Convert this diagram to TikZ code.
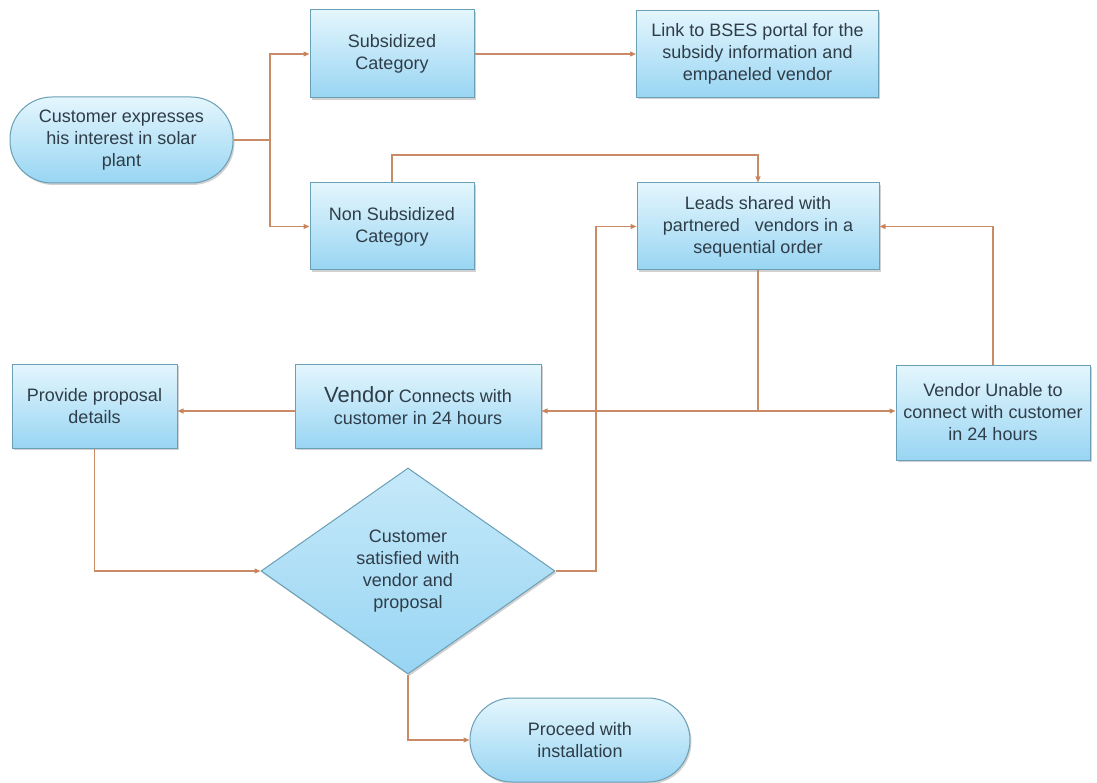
\documentclass[tikz,border=0pt]{standalone}
\usepackage{fontspec}
\setmainfont{Liberation Sans}
\usetikzlibrary{arrows.meta,shadows,shapes.geometric}
\definecolor{boxtop}{HTML}{E4F6FD}
\definecolor{boxbot}{HTML}{98D5F3}
\definecolor{boxline}{HTML}{6A9FB5}
\definecolor{conn}{HTML}{C98A66}
\definecolor{tipc}{HTML}{D06A35}
\definecolor{txt}{HTML}{2F3D48}
\begin{document}
\begin{tikzpicture}[x=1pt,y=-1pt,
  shapebase/.style={draw=boxline, line width=1pt, top color=boxtop, bottom color=boxbot,
    inner sep=0pt, align=center, text=txt, font=\fontsize{18}{22}\selectfont,
    drop shadow={opacity=0.3, shadow xshift=1.5pt, shadow yshift=-2pt, fill=black!60}},
  procbox/.style={shapebase, rectangle},
  termbox/.style={shapebase, rectangle, rounded corners=42pt},
  decbox/.style={shapebase, diamond, top color=boxtop!60!boxbot, bottom color=boxbot},
  lbl/.style={align=center, text=txt, font=\fontsize{18}{22}\selectfont, inner sep=0pt},
  link/.style={draw=conn, line width=1.1pt},
  arr/.style={link, -{Triangle[length=6pt,width=5pt,fill=tipc]}}
]
\useasboundingbox (0,0) rectangle (1097,783);

\node[termbox, minimum width=223pt, minimum height=86pt] (cust) at (121.5,140)
  {Customer expresses\\his interest in solar\\plant};
\node[procbox, minimum width=164pt, minimum height=88pt] (sub) at (392,54)
  {Subsidized\\Category};
\node[procbox, minimum width=242pt, minimum height=87pt] (portal) at (757.5,54)
  {Link to BSES portal for the\\subsidy information and\\empaneled vendor};
\node[procbox, minimum width=164pt, minimum height=87pt] (nonsub) at (392,226.5)
  {Non Subsidized\\Category};
\node[procbox, minimum width=242pt, minimum height=87pt] (leads) at (758,226.5)
  {Leads shared with\\partnered\ \ \ vendors in a\\sequential order};
\node[procbox, minimum width=246pt, minimum height=84pt] (vconn) at (418,406)
  {{\fontsize{22}{22}\selectfont Vendor} Connects with\\customer in 24 hours};
\node[procbox, minimum width=165pt, minimum height=84pt] (prov) at (94.5,406)
  {Provide proposal\\details};
\node[procbox, minimum width=194pt, minimum height=95pt] (vun) at (993,412.5)
  {Vendor Unable to\\connect with customer\\in 24 hours};
\node[decbox, minimum width=294pt, minimum height=206pt] (dia) at (408,571) {};
\node[lbl] (dialbl) at (408,571) {Customer\\satisfied with\\vendor and\\proposal};
\node[termbox, minimum width=220pt, minimum height=84pt] (proc) at (580,740)
  {Proceed with\\installation};

% connectors
\coordinate (j1) at (270,140);
\draw[link] (cust.east) -- (j1);
\draw[arr] (j1) |- (sub.west);
\draw[arr] (j1) |- (nonsub.west);
\draw[arr] (sub.east) -- (portal.west);
\coordinate (top) at (600,155);
\draw[arr] (nonsub.north) |- (top) -| (leads.north);
\coordinate (j2) at (758,411);
\draw[link] (leads.south) -- (j2);
\draw[arr] (j2) -- (vconn.east |- j2);
\draw[arr] (j2) -- (vun.west |- j2);
\draw[arr] (vconn.west |- j2) -- (prov.east |- j2);
\draw[arr] (vun.north) |- (leads.east);
\draw[arr] (prov.south) |- (dia.west);
\coordinate (r) at (596,571);
\draw[arr] (dia.east) -- (r) |- (leads.west);
\draw[arr] (dia.south) |- (proc.west);
\end{tikzpicture}
\end{document}
